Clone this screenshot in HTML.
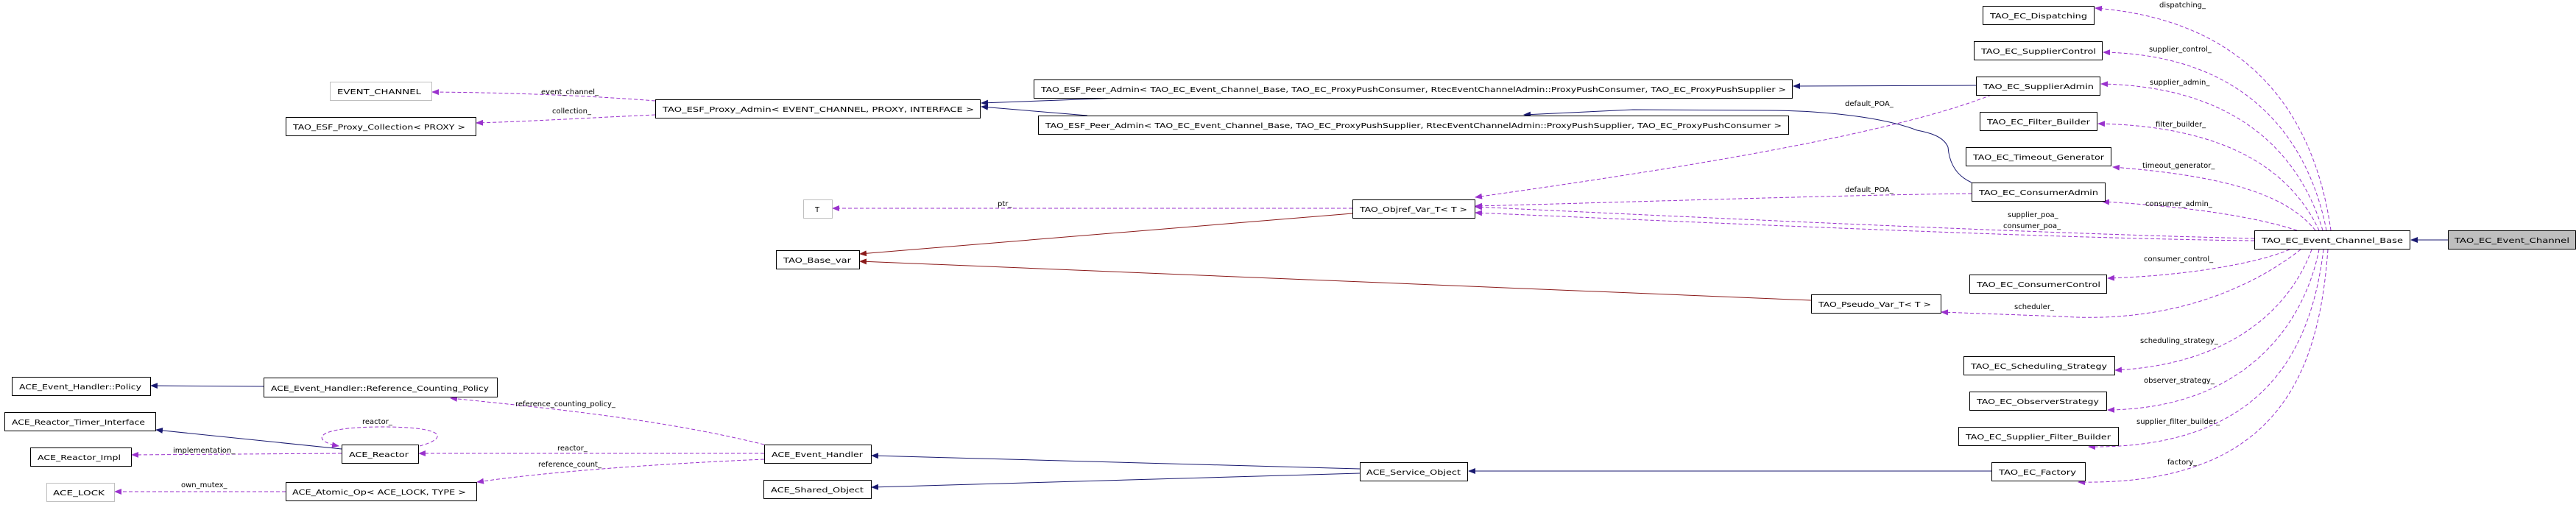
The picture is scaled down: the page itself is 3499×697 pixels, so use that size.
<!DOCTYPE html>
<html><head><meta charset="utf-8"><style>
html,body{margin:0;padding:0;background:#fff}
svg{display:block}
text{font-family:"DejaVu Sans","Liberation Sans",sans-serif;font-size:10px;fill:#000}
.b{fill:#fff;stroke:#000;stroke-width:1}
.g{fill:#fff;stroke:#bfbfbf;stroke-width:1}
.n{fill:none;stroke:#191970;stroke-width:1}
.p{fill:none;stroke:#9a32cd;stroke-width:1;stroke-dasharray:5,3}
.r{fill:none;stroke:#8b1a1a;stroke-width:1}
</style></head><body>
<svg width="3499" height="697" viewBox="0 0 3499 697" xmlns="http://www.w3.org/2000/svg">
<defs>
<marker id="mn" markerWidth="10" markerHeight="8" refX="9" refY="4" orient="auto" markerUnits="userSpaceOnUse"><path d="M0,0 L10,4 L0,8 z" fill="#191970"/></marker>
<marker id="mp" markerWidth="10" markerHeight="8" refX="9" refY="4" orient="auto" markerUnits="userSpaceOnUse"><path d="M0,0 L10,4 L0,8 z" fill="#9a32cd"/></marker>
<marker id="mr" markerWidth="10" markerHeight="8" refX="9" refY="4" orient="auto" markerUnits="userSpaceOnUse"><path d="M0,0 L10,4 L0,8 z" fill="#8b1a1a"/></marker>
</defs>

<!-- edges -->
<path class="n" d="M3325,326 L3275,326" marker-end="url(#mn)"/>
<path class="p" d="M3166,313 C3150,200 3090,30 2846,11" marker-end="url(#mp)"/>
<path class="p" d="M3160,313 C3140,210 3070,75 2857,71" marker-end="url(#mp)"/>
<path class="p" d="M3155,313 C3130,230 3060,118 2854,114" marker-end="url(#mp)"/>
<path class="p" d="M3150,313 C3120,250 3050,172 2850,168" marker-end="url(#mp)"/>
<path class="p" d="M3145,313 C3110,270 3040,240 2870,227" marker-end="url(#mp)"/>
<path class="p" d="M3120,313 C3080,300 3000,282 2856,274" marker-end="url(#mp)"/>
<path class="p" d="M3062,324 C2800,318 2400,300 2004,281" marker-end="url(#mp)"/>
<path class="p" d="M3062,327 C2800,324 2400,306 2004,289" marker-end="url(#mp)"/>
<path class="p" d="M2705,129 C2550,190 2200,240 2004,268" marker-end="url(#mp)"/>
<path class="p" d="M2678,263 C2500,265 2200,275 2004,280" marker-end="url(#mp)"/>
<path class="n" d="M2678,248 C2660,240 2648,225 2646,200 C2640,185 2620,180 2604,177 C2560,160 2480,150 2400,150 L2218,149 L2070,156" marker-end="url(#mn)"/>
<path class="n" d="M2684,116 L2436,117" marker-end="url(#mn)"/>
<path class="n" d="M1522,133 L1333,140" marker-end="url(#mn)"/>
<path class="n" d="M1477,157 L1333,145" marker-end="url(#mn)"/>
<path class="p" d="M890,137 C800,130 700,126 587,125" marker-end="url(#mp)"/>
<path class="p" d="M890,156 C800,160 720,165 647,167" marker-end="url(#mp)"/>
<path class="p" d="M1837,283 L1131,283" marker-end="url(#mp)"/>
<path class="r" d="M1837,290 L1168,345" marker-end="url(#mr)"/>
<path class="r" d="M2460,408 L1168,355" marker-end="url(#mr)"/>
<path class="p" d="M3125,339 C3060,390 2950,440 2800,430 L2637,424" marker-end="url(#mp)"/>
<path class="p" d="M3110,339 C3060,360 2960,375 2863,378" marker-end="url(#mp)"/>
<path class="p" d="M3140,339 C3110,420 3030,495 2873,503" marker-end="url(#mp)"/>
<path class="p" d="M3150,339 C3130,440 3050,555 2863,557" marker-end="url(#mp)"/>
<path class="p" d="M3156,339 C3140,470 3080,610 2837,607" marker-end="url(#mp)"/>
<path class="p" d="M3162,339 C3150,500 3100,660 2823,655" marker-end="url(#mp)"/>
<path class="n" d="M2705,640 L1995,640" marker-end="url(#mn)"/>
<path class="n" d="M1847,637 L1184,619" marker-end="url(#mn)"/>
<path class="n" d="M1847,643 L1184,662" marker-end="url(#mn)"/>
<path class="p" d="M1038,604 C900,570 750,555 612,541" marker-end="url(#mp)"/>
<path class="p" d="M1038,616 L569,616" marker-end="url(#mp)"/>
<path class="p" d="M1038,624 C900,630 750,640 648,655" marker-end="url(#mp)"/>
<path class="n" d="M358,525 L205,524" marker-end="url(#mn)"/>
<path class="n" d="M464,610 L212,584" marker-end="url(#mn)"/>
<path class="p" d="M464,616 L179,618" marker-end="url(#mp)"/>
<path class="p" d="M570,606 C610,595 605,580 520,580 C420,580 425,600 460,606" marker-end="url(#mp)"/>
<path class="p" d="M388,668 L156,668" marker-end="url(#mp)"/>

<!-- edge labels -->
<text x="2933" y="10">dispatching_</text>
<text x="2919" y="70">supplier_control_</text>
<text x="2920" y="115">supplier_admin_</text>
<text x="2928" y="172">filter_builder_</text>
<text x="2910" y="228">timeout_generator_</text>
<text x="2914" y="280">consumer_admin_</text>
<text x="2727" y="295">supplier_poa_</text>
<text x="2721" y="310">consumer_poa_</text>
<text x="2506" y="144">default_POA_</text>
<text x="2506" y="261">default_POA_</text>
<text x="2912" y="355">consumer_control_</text>
<text x="2736" y="420">scheduler_</text>
<text x="2907" y="466">scheduling_strategy_</text>
<text x="2912" y="520">observer_strategy_</text>
<text x="2902" y="576">supplier_filter_builder_</text>
<text x="2944" y="631">factory_</text>
<text x="735" y="128">event_channel_</text>
<text x="750" y="154">collection_</text>
<text x="1355" y="280">ptr_</text>
<text x="700" y="552">reference_counting_policy_</text>
<text x="492" y="576">reactor_</text>
<text x="757" y="612">reactor_</text>
<text x="235" y="615">implementation_</text>
<text x="731" y="634">reference_count_</text>
<text x="246" y="662">own_mutex_</text>

<!-- nodes -->
<rect x="3325.5" y="313.5" width="173" height="25" fill="#bfbfbf" stroke="#000"/>
<text x="3334" y="330" textLength="156" lengthAdjust="spacingAndGlyphs">TAO_EC_Event_Channel</text>
<rect class="b" x="3062.5" y="313.5" width="211" height="25"/>
<text x="3072" y="330" textLength="192" lengthAdjust="spacingAndGlyphs">TAO_EC_Event_Channel_Base</text>

<rect class="b" x="2693.5" y="8.5" width="151" height="25"/><text x="2703" y="25" textLength="132" lengthAdjust="spacingAndGlyphs">TAO_EC_Dispatching</text>
<rect class="b" x="2681.5" y="56.5" width="174" height="25"/><text x="2691" y="73" textLength="156" lengthAdjust="spacingAndGlyphs">TAO_EC_SupplierControl</text>
<rect class="b" x="2684.5" y="104.5" width="168" height="25"/><text x="2694" y="121" textLength="150" lengthAdjust="spacingAndGlyphs">TAO_EC_SupplierAdmin</text>
<rect class="b" x="2689.5" y="152.5" width="159" height="25"/><text x="2699" y="169" textLength="140" lengthAdjust="spacingAndGlyphs">TAO_EC_Filter_Builder</text>
<rect class="b" x="2670.5" y="200.5" width="197" height="25"/><text x="2680" y="217" textLength="178" lengthAdjust="spacingAndGlyphs">TAO_EC_Timeout_Generator</text>
<rect class="b" x="2678.5" y="248.5" width="181" height="25"/><text x="2688" y="265" textLength="162" lengthAdjust="spacingAndGlyphs">TAO_EC_ConsumerAdmin</text>
<rect class="b" x="2675.5" y="373.5" width="186" height="25"/><text x="2685" y="390" textLength="168" lengthAdjust="spacingAndGlyphs">TAO_EC_ConsumerControl</text>
<rect class="b" x="2460.5" y="400.5" width="176" height="25"/><text x="2470" y="417" textLength="153" lengthAdjust="spacingAndGlyphs">TAO_Pseudo_Var_T&lt; T &gt;</text>
<rect class="b" x="2667.5" y="484.5" width="205" height="25"/><text x="2677" y="501" textLength="185" lengthAdjust="spacingAndGlyphs">TAO_EC_Scheduling_Strategy</text>
<rect class="b" x="2675.5" y="532.5" width="186" height="25"/><text x="2685" y="549" textLength="166" lengthAdjust="spacingAndGlyphs">TAO_EC_ObserverStrategy</text>
<rect class="b" x="2660.5" y="580.5" width="217" height="25"/><text x="2670" y="597" textLength="197" lengthAdjust="spacingAndGlyphs">TAO_EC_Supplier_Filter_Builder</text>
<rect class="b" x="2705.5" y="628.5" width="127" height="25"/><text x="2715" y="645" textLength="105" lengthAdjust="spacingAndGlyphs">TAO_EC_Factory</text>

<rect class="b" x="1404.5" y="108.5" width="1030" height="25"/><text x="1414" y="125" textLength="1012" lengthAdjust="spacingAndGlyphs">TAO_ESF_Peer_Admin&lt; TAO_EC_Event_Channel_Base, TAO_EC_ProxyPushConsumer, RtecEventChannelAdmin::ProxyPushConsumer, TAO_EC_ProxyPushSupplier &gt;</text>
<rect class="b" x="1410.5" y="157.5" width="1019" height="25"/><text x="1420" y="174" textLength="1000" lengthAdjust="spacingAndGlyphs">TAO_ESF_Peer_Admin&lt; TAO_EC_Event_Channel_Base, TAO_EC_ProxyPushSupplier, RtecEventChannelAdmin::ProxyPushSupplier, TAO_EC_ProxyPushConsumer &gt;</text>
<rect class="b" x="890.5" y="135.5" width="441" height="25"/><text x="900" y="152" textLength="423" lengthAdjust="spacingAndGlyphs">TAO_ESF_Proxy_Admin&lt; EVENT_CHANNEL, PROXY, INTERFACE &gt;</text>
<rect class="g" x="448.5" y="111.5" width="138" height="25"/><text x="458" y="128" textLength="114" lengthAdjust="spacingAndGlyphs">EVENT_CHANNEL</text>
<rect class="b" x="388.5" y="159.5" width="258" height="25"/><text x="398" y="176" textLength="234" lengthAdjust="spacingAndGlyphs">TAO_ESF_Proxy_Collection&lt; PROXY &gt;</text>
<rect class="b" x="1837.5" y="271.5" width="166" height="25"/><text x="1847" y="288" textLength="146" lengthAdjust="spacingAndGlyphs">TAO_Objref_Var_T&lt; T &gt;</text>
<rect class="g" x="1091.5" y="271.5" width="39" height="25"/><text x="1107" y="288">T</text>
<rect class="b" x="1054.5" y="340.5" width="113" height="25"/><text x="1064" y="357" textLength="92" lengthAdjust="spacingAndGlyphs">TAO_Base_var</text>

<rect class="b" x="1847.5" y="628.5" width="146" height="25"/><text x="1856" y="645" textLength="128" lengthAdjust="spacingAndGlyphs">ACE_Service_Object</text>
<rect class="b" x="1038.5" y="604.5" width="145" height="25"/><text x="1048" y="621" textLength="124" lengthAdjust="spacingAndGlyphs">ACE_Event_Handler</text>
<rect class="b" x="1037.5" y="652.5" width="146" height="25"/><text x="1047" y="669" textLength="126" lengthAdjust="spacingAndGlyphs">ACE_Shared_Object</text>
<rect class="b" x="16.5" y="512.5" width="188" height="25"/><text x="26" y="529" textLength="166" lengthAdjust="spacingAndGlyphs">ACE_Event_Handler::Policy</text>
<rect class="b" x="358.5" y="513.5" width="317" height="26"/><text x="368" y="531" textLength="296" lengthAdjust="spacingAndGlyphs">ACE_Event_Handler::Reference_Counting_Policy</text>
<rect class="b" x="6.5" y="560.5" width="205" height="25"/><text x="16" y="577" textLength="181" lengthAdjust="spacingAndGlyphs">ACE_Reactor_Timer_Interface</text>
<rect class="b" x="41.5" y="608.5" width="137" height="25"/><text x="51" y="625" textLength="113" lengthAdjust="spacingAndGlyphs">ACE_Reactor_Impl</text>
<rect class="b" x="464.5" y="604.5" width="104" height="25"/><text x="474" y="621" textLength="81" lengthAdjust="spacingAndGlyphs">ACE_Reactor</text>
<rect class="g" x="63.5" y="656.5" width="92" height="25"/><text x="72" y="673" textLength="70" lengthAdjust="spacingAndGlyphs">ACE_LOCK</text>
<rect class="b" x="388.5" y="655.5" width="259" height="25"/><text x="397" y="672" textLength="236" lengthAdjust="spacingAndGlyphs">ACE_Atomic_Op&lt; ACE_LOCK, TYPE &gt;</text>
</svg>
</body></html>
